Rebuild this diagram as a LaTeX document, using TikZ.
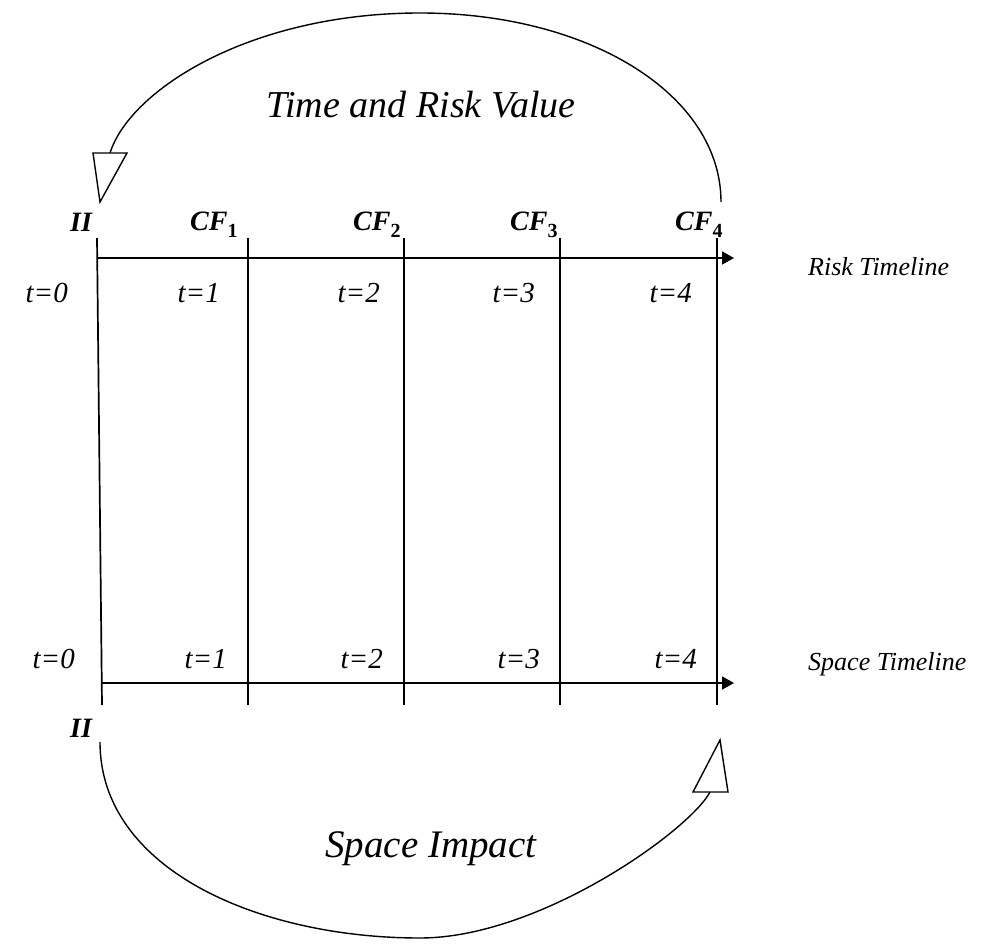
\documentclass[tikz,border=0pt]{standalone}
\usepackage{fontspec}
\setmainfont{Liberation Serif}
\usetikzlibrary{arrows.meta}

\tikzset{
  timeline/.style={line width=1.8pt, -{Triangle[length=12pt,width=13pt]}},
  gridline/.style={line width=1.7pt},
  loopline/.style={line width=1.4pt},
  openhead/.style={line width=1.4pt, fill=white, line join=miter},
  tlabel/.style={font=\fontsize{29}{30}\selectfont\itshape, inner sep=0pt, anchor=base east},
  cflabel/.style={font=\fontsize{28}{30}\selectfont\bfseries\itshape, inner sep=0pt, anchor=base west},
  axislabel/.style={font=\fontsize{26}{28}\selectfont\itshape, inner sep=0pt, anchor=base west},
  looplabel/.style={font=\fontsize{38}{40}\selectfont\itshape, inner sep=0pt, anchor=base},
}
\newcommand{\cfsub}[1]{CF\raisebox{-7pt}{\fontsize{20}{20}\selectfont\upshape #1}}

\begin{document}
\begin{tikzpicture}[x=1pt,y=-1pt]
\useasboundingbox (0,0) rectangle (987,944);

% Grid end points (top and bottom of each period line)
\coordinate (top0) at (97,238);  \coordinate (bot0) at (102,705);
\coordinate (top1) at (248,238); \coordinate (bot1) at (248,705);
\coordinate (top2) at (404,238); \coordinate (bot2) at (404,705);
\coordinate (top3) at (560,238); \coordinate (bot3) at (560,705);
\coordinate (top4) at (717,238); \coordinate (bot4) at (717,705);

% Timeline end points
\coordinate (risk0) at (97,258);   \coordinate (riskend) at (734,258);
\coordinate (space0) at (102,683); \coordinate (spaceend) at (734,683);

% Draw period lines
\draw[gridline] (top0) -- (bot0);
\draw[gridline] (top1) -- (bot1);
\draw[gridline] (top2) -- (bot2);
\draw[gridline] (top3) -- (bot3);
\draw[gridline] (top4) -- (bot4);

% Draw the two timelines
\draw[timeline] (risk0) -- (riskend);
\draw[timeline] (space0) -- (spaceend);

% Top loop (from CF_4 back to II)
\coordinate (upright) at (721,202);
\coordinate (upmid) at (420,13);
\coordinate (upleft) at (110,153);
\draw[loopline] (upright) .. controls (721,95) and (590,13) .. (upmid)
  .. controls (250,13) and (130,90) .. (upleft);
\draw[openhead] (93,153) -- (127,153) -- (100,202) -- cycle;

% Bottom loop (from II forward to CF_4)
\coordinate (lowleft) at (100,742);
\coordinate (lowmid) at (420,938);
\coordinate (lowright) at (710,792);
\draw[loopline] (lowleft) .. controls (100,870) and (260,938) .. (lowmid)
  .. controls (540,938) and (690,830) .. (lowright);
\draw[openhead] (693,792) -- (728,792) -- (720,740) -- cycle;

% Cash flow labels
\node[cflabel] (iitop) at (70,231) {II};
\node[cflabel] (cf1) at (190,230) {\cfsub{1}};
\node[cflabel] (cf2) at (353,230) {\cfsub{2}};
\node[cflabel] (cf3) at (510,230) {\cfsub{3}};
\node[cflabel] (cf4) at (675,230) {\cfsub{4}};
\node[cflabel] (iibot) at (70,737) {II};

% Period labels, risk side
\node[tlabel] (rt0) at (68,302) {t=0};
\node[tlabel] (rt1) at (220,302) {t=1};
\node[tlabel] (rt2) at (380,302) {t=2};
\node[tlabel] (rt3) at (535,302) {t=3};
\node[tlabel] (rt4) at (692,302) {t=4};

% Period labels, space side
\node[tlabel] (st0) at (75,668) {t=0};
\node[tlabel] (st1) at (227,668) {t=1};
\node[tlabel] (st2) at (383,668) {t=2};
\node[tlabel] (st3) at (540,668) {t=3};
\node[tlabel] (st4) at (697,668) {t=4};

% Timeline names
\node[axislabel] (riskname) at (808,275) {Risk Timeline};
\node[axislabel] (spacename) at (808,670) {Space Timeline};

% Loop names
\node[looplabel] (upname) at (421,118) {Time and Risk Value};
\node[looplabel, font=\fontsize{39}{40}\selectfont\itshape] (lowname) at (431,857) {Space Impact};

\end{tikzpicture}
\end{document}
